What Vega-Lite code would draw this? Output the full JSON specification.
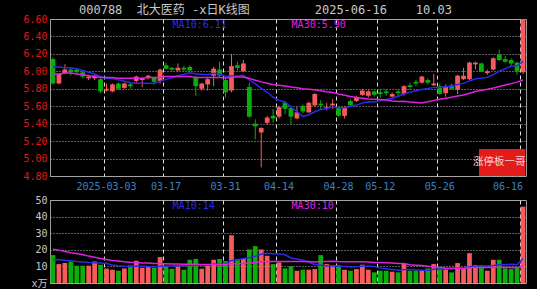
{
"$schema": "https://vega.github.io/schema/vega-lite/v6.json",
"background": "#000000",
"padding": {"left": 21, "top": 3, "right": 10, "bottom": 0},
"title": {"text": "000788\u00a0\u00a0北大医药\u00a0-x日K线图\u00a0\u00a0\u00a0\u00a0\u00a0\u00a0\u00a0\u00a0\u00a02025-06-16\u00a0\u00a0\u00a0\u00a010.03", "anchor": "start", "frame": "group", "dx": 29, "fontSize": 12, "font": "DejaVu Sans Mono, Noto Sans CJK SC", "fontWeight": "normal", "color": "#c8c8c8", "offset": -3},
"spacing": 2,
"datasets": {
"k": [
{"d":"2025-02-18","o":6.14,"h":6.16,"l":5.85,"c":5.86,"v":16.8,"m10":6.05,"m30":5.97,"vm10":14.2,"vm30":20.4},
{"d":"2025-02-19","o":5.86,"h":5.98,"l":5.85,"c":5.97,"v":11.4,"m10":6.05,"m30":5.97,"vm10":14.0,"vm30":19.8},
{"d":"2025-02-20","o":5.98,"h":6.08,"l":5.97,"c":6.02,"v":12.0,"m10":6.04,"m30":5.98,"vm10":13.7,"vm30":19.0},
{"d":"2025-02-21","o":6.02,"h":6.04,"l":5.95,"c":5.99,"v":13.0,"m10":6.04,"m30":5.98,"vm10":13.4,"vm30":18.2},
{"d":"2025-02-24","o":6.02,"h":6.03,"l":5.97,"c":5.99,"v":10.4,"m10":6.03,"m30":5.97,"vm10":13.0,"vm30":17.8},
{"d":"2025-02-25","o":5.99,"h":6.0,"l":5.92,"c":5.94,"v":10.4,"m10":6.01,"m30":5.96,"vm10":12.7,"vm30":17.0},
{"d":"2025-02-26","o":5.92,"h":5.96,"l":5.9,"c":5.94,"v":10.4,"m10":5.99,"m30":5.95,"vm10":12.4,"vm30":16.2},
{"d":"2025-02-27","o":5.92,"h":5.96,"l":5.9,"c":5.95,"v":13.0,"m10":5.97,"m30":5.94,"vm10":12.2,"vm30":15.5},
{"d":"2025-02-28","o":5.91,"h":5.92,"l":5.75,"c":5.77,"v":11.0,"m10":5.94,"m30":5.93,"vm10":12.0,"vm30":14.8},
{"d":"2025-03-03","o":5.78,"h":5.86,"l":5.77,"c":5.8,"v":8.8,"m10":5.92,"m30":5.93,"vm10":11.72,"vm30":14.2},
{"d":"2025-03-04","o":5.77,"h":5.86,"l":5.76,"c":5.85,"v":8.0,"m10":5.919,"m30":5.93,"vm10":10.84,"vm30":13.6},
{"d":"2025-03-05","o":5.86,"h":5.87,"l":5.79,"c":5.8,"v":7.4,"m10":5.902,"m30":5.92,"vm10":10.44,"vm30":13.2},
{"d":"2025-03-06","o":5.81,"h":5.87,"l":5.8,"c":5.86,"v":8.8,"m10":5.886,"m30":5.92,"vm10":10.12,"vm30":12.8},
{"d":"2025-03-07","o":5.85,"h":5.87,"l":5.8,"c":5.83,"v":10.6,"m10":5.87,"m30":5.92,"vm10":9.88,"vm30":12.5},
{"d":"2025-03-10","o":5.89,"h":5.95,"l":5.87,"c":5.94,"v":13.4,"m10":5.864,"m30":5.92,"vm10":10.18,"vm30":12.3},
{"d":"2025-03-11","o":5.9,"h":5.93,"l":5.82,"c":5.92,"v":9.2,"m10":5.862,"m30":5.92,"vm10":10.06,"vm30":12.1},
{"d":"2025-03-12","o":5.93,"h":5.96,"l":5.91,"c":5.95,"v":9.9,"m10":5.864,"m30":5.93,"vm10":10.01,"vm30":12.0},
{"d":"2025-03-13","o":5.93,"h":5.94,"l":5.85,"c":5.88,"v":9.2,"m10":5.86,"m30":5.93,"vm10":9.63,"vm30":11.8},
{"d":"2025-03-14","o":5.89,"h":6.03,"l":5.86,"c":6.02,"v":15.6,"m10":5.885,"m30":5.93,"vm10":10.09,"vm30":11.7},
{"d":"2025-03-17","o":6.07,"h":6.1,"l":6.02,"c":6.03,"v":10.0,"m10":5.908,"m30":5.94,"vm10":10.21,"vm30":11.6},
{"d":"2025-03-18","o":6.04,"h":6.05,"l":6.0,"c":6.02,"v":8.6,"m10":5.925,"m30":5.94,"vm10":10.27,"vm30":11.5},
{"d":"2025-03-19","o":6.01,"h":6.09,"l":6.0,"c":6.04,"v":10.0,"m10":5.949,"m30":5.94,"vm10":10.53,"vm30":11.4},
{"d":"2025-03-20","o":6.04,"h":6.06,"l":6.0,"c":6.02,"v":8.0,"m10":5.965,"m30":5.94,"vm10":10.45,"vm30":11.3},
{"d":"2025-03-21","o":6.05,"h":6.07,"l":6.0,"c":6.01,"v":14.0,"m10":5.983,"m30":5.94,"vm10":10.79,"vm30":11.3},
{"d":"2025-03-24","o":5.93,"h":5.95,"l":5.72,"c":5.83,"v":14.5,"m10":5.972,"m30":5.93,"vm10":10.9,"vm30":11.3},
{"d":"2025-03-25","o":5.8,"h":5.87,"l":5.78,"c":5.86,"v":8.6,"m10":5.966,"m30":5.93,"vm10":10.84,"vm30":11.2},
{"d":"2025-03-26","o":5.85,"h":5.93,"l":5.78,"c":5.91,"v":10.4,"m10":5.962,"m30":5.93,"vm10":10.89,"vm30":11.2},
{"d":"2025-03-27","o":5.95,"h":6.05,"l":5.83,"c":6.03,"v":14.0,"m10":5.977,"m30":5.93,"vm10":11.37,"vm30":11.2},
{"d":"2025-03-28","o":6.02,"h":6.11,"l":5.94,"c":5.95,"v":14.5,"m10":5.97,"m30":5.93,"vm10":11.26,"vm30":11.2},
{"d":"2025-03-31","o":5.9,"h":5.92,"l":5.7,"c":5.76,"v":13.2,"m10":5.943,"m30":5.925,"vm10":11.58,"vm30":11.17},
{"d":"2025-04-01","o":5.78,"h":6.2,"l":5.76,"c":6.06,"v":28.8,"m10":5.947,"m30":5.931,"vm10":13.6,"vm30":11.57},
{"d":"2025-04-02","o":6.07,"h":6.11,"l":6.01,"c":6.04,"v":14.4,"m10":5.947,"m30":5.934,"vm10":14.04,"vm30":11.67},
{"d":"2025-04-03","o":6.0,"h":6.13,"l":5.99,"c":6.09,"v":15.0,"m10":5.954,"m30":5.936,"vm10":14.74,"vm30":11.77},
{"d":"2025-04-07","o":5.82,"h":5.87,"l":5.47,"c":5.48,"v":20.2,"m10":5.901,"m30":5.919,"vm10":15.36,"vm30":12.01},
{"d":"2025-04-08","o":5.4,"h":5.45,"l":5.22,"c":5.37,"v":22.2,"m10":5.855,"m30":5.898,"vm10":16.13,"vm30":12.4},
{"d":"2025-04-09","o":5.3,"h":5.36,"l":4.9,"c":5.35,"v":20.2,"m10":5.804,"m30":5.879,"vm10":17.29,"vm30":12.73},
{"d":"2025-04-10","o":5.41,"h":5.49,"l":5.39,"c":5.47,"v":16.4,"m10":5.76,"m30":5.863,"vm10":17.89,"vm30":12.93},
{"d":"2025-04-11","o":5.49,"h":5.57,"l":5.41,"c":5.46,"v":11.4,"m10":5.703,"m30":5.847,"vm10":17.63,"vm30":12.88},
{"d":"2025-04-14","o":5.48,"h":5.6,"l":5.46,"c":5.59,"v":12.4,"m10":5.667,"m30":5.841,"vm10":17.42,"vm30":12.92},
{"d":"2025-04-15","o":5.64,"h":5.66,"l":5.51,"c":5.57,"v":8.8,"m10":5.648,"m30":5.833,"vm10":16.98,"vm30":12.92},
{"d":"2025-04-16","o":5.58,"h":5.61,"l":5.39,"c":5.48,"v":10.0,"m10":5.59,"m30":5.821,"vm10":15.1,"vm30":12.99},
{"d":"2025-04-17","o":5.46,"h":5.59,"l":5.45,"c":5.53,"v":7.4,"m10":5.539,"m30":5.812,"vm10":14.4,"vm30":12.99},
{"d":"2025-04-18","o":5.6,"h":5.62,"l":5.52,"c":5.54,"v":8.0,"m10":5.484,"m30":5.801,"vm10":13.7,"vm30":12.96},
{"d":"2025-04-21","o":5.53,"h":5.65,"l":5.52,"c":5.64,"v":8.0,"m10":5.5,"m30":5.795,"vm10":12.48,"vm30":12.88},
{"d":"2025-04-22","o":5.61,"h":5.75,"l":5.6,"c":5.74,"v":8.4,"m10":5.537,"m30":5.788,"vm10":11.1,"vm30":12.71},
{"d":"2025-04-23","o":5.63,"h":5.67,"l":5.57,"c":5.61,"v":16.8,"m10":5.563,"m30":5.778,"vm10":10.76,"vm30":12.96},
{"d":"2025-04-24","o":5.58,"h":5.64,"l":5.55,"c":5.59,"v":11.4,"m10":5.575,"m30":5.766,"vm10":10.26,"vm30":13.01},
{"d":"2025-04-25","o":5.61,"h":5.68,"l":5.57,"c":5.63,"v":10.8,"m10":5.592,"m30":5.757,"vm10":10.2,"vm30":13.07},
{"d":"2025-04-28","o":5.58,"h":5.6,"l":5.48,"c":5.49,"v":10.8,"m10":5.582,"m30":5.74,"vm10":10.04,"vm30":12.91},
{"d":"2025-04-29","o":5.49,"h":5.6,"l":5.46,"c":5.58,"v":8.0,"m10":5.583,"m30":5.725,"vm10":9.96,"vm30":12.84},
{"d":"2025-04-30","o":5.66,"h":5.68,"l":5.6,"c":5.61,"v":7.4,"m10":5.596,"m30":5.711,"vm10":9.7,"vm30":12.8},
{"d":"2025-05-06","o":5.66,"h":5.72,"l":5.65,"c":5.7,"v":8.4,"m10":5.613,"m30":5.7,"vm10":9.8,"vm30":12.75},
{"d":"2025-05-07","o":5.73,"h":5.8,"l":5.72,"c":5.78,"v":11.0,"m10":5.637,"m30":5.692,"vm10":10.1,"vm30":12.85},
{"d":"2025-05-08","o":5.72,"h":5.79,"l":5.7,"c":5.77,"v":8.0,"m10":5.65,"m30":5.684,"vm10":10.1,"vm30":12.65},
{"d":"2025-05-09","o":5.77,"h":5.78,"l":5.71,"c":5.73,"v":6.4,"m10":5.649,"m30":5.68,"vm10":9.9,"vm30":12.38},
{"d":"2025-05-12","o":5.76,"h":5.8,"l":5.7,"c":5.74,"v":7.4,"m10":5.662,"m30":5.676,"vm10":8.96,"vm30":12.34},
{"d":"2025-05-13","o":5.77,"h":5.8,"l":5.72,"c":5.75,"v":7.4,"m10":5.678,"m30":5.671,"vm10":8.56,"vm30":12.24},
{"d":"2025-05-14","o":5.71,"h":5.76,"l":5.7,"c":5.74,"v":6.8,"m10":5.689,"m30":5.661,"vm10":8.16,"vm30":12.0},
{"d":"2025-05-15","o":5.77,"h":5.79,"l":5.71,"c":5.75,"v":6.4,"m10":5.715,"m30":5.655,"vm10":7.72,"vm30":11.73},
{"d":"2025-05-16","o":5.74,"h":5.84,"l":5.72,"c":5.83,"v":12.0,"m10":5.74,"m30":5.657,"vm10":8.12,"vm30":11.69},
{"d":"2025-05-19","o":5.84,"h":5.87,"l":5.79,"c":5.82,"v":7.4,"m10":5.761,"m30":5.649,"vm10":8.12,"vm30":10.97},
{"d":"2025-05-20","o":5.88,"h":5.9,"l":5.83,"c":5.86,"v":7.4,"m10":5.777,"m30":5.643,"vm10":8.02,"vm30":10.74},
{"d":"2025-05-21","o":5.87,"h":5.95,"l":5.86,"c":5.94,"v":7.4,"m10":5.793,"m30":5.638,"vm10":7.66,"vm30":10.49},
{"d":"2025-05-22","o":5.9,"h":5.92,"l":5.85,"c":5.87,"v":8.8,"m10":5.803,"m30":5.651,"vm10":7.74,"vm30":10.11},
{"d":"2025-05-23","o":5.84,"h":5.97,"l":5.83,"c":5.86,"v":11.4,"m10":5.816,"m30":5.667,"vm10":8.24,"vm30":9.75},
{"d":"2025-05-26","o":5.83,"h":5.86,"l":5.73,"c":5.74,"v":8.8,"m10":5.816,"m30":5.68,"vm10":8.38,"vm30":9.37},
{"d":"2025-05-27","o":5.75,"h":5.85,"l":5.71,"c":5.83,"v":8.8,"m10":5.824,"m30":5.692,"vm10":8.52,"vm30":9.11},
{"d":"2025-05-28","o":5.84,"h":5.86,"l":5.79,"c":5.8,"v":6.4,"m10":5.83,"m30":5.704,"vm10":8.48,"vm30":8.95},
{"d":"2025-05-29","o":5.79,"h":5.96,"l":5.74,"c":5.95,"v":12.0,"m10":5.85,"m30":5.716,"vm10":9.04,"vm30":8.93},
{"d":"2025-05-30","o":5.91,"h":6.04,"l":5.9,"c":5.95,"v":8.8,"m10":5.862,"m30":5.728,"vm10":8.72,"vm30":8.93},
{"d":"2025-06-03","o":5.91,"h":6.11,"l":5.9,"c":6.1,"v":18.0,"m10":5.89,"m30":5.749,"vm10":9.78,"vm30":9.2},
{"d":"2025-06-04","o":6.08,"h":6.11,"l":6.02,"c":6.1,"v":10.8,"m10":5.914,"m30":5.768,"vm10":10.12,"vm30":9.31},
{"d":"2025-06-05","o":6.09,"h":6.1,"l":5.99,"c":6.0,"v":10.4,"m10":5.92,"m30":5.783,"vm10":10.42,"vm30":9.39},
{"d":"2025-06-06","o":5.98,"h":6.02,"l":5.96,"c":6.0,"v":7.4,"m10":5.933,"m30":5.795,"vm10":10.28,"vm30":9.37},
{"d":"2025-06-09","o":6.02,"h":6.16,"l":6.01,"c":6.15,"v":14.0,"m10":5.962,"m30":5.809,"vm10":10.54,"vm30":9.56},
{"d":"2025-06-10","o":6.19,"h":6.25,"l":6.12,"c":6.13,"v":14.0,"m10":6.001,"m30":5.826,"vm10":11.06,"vm30":9.47},
{"d":"2025-06-11","o":6.14,"h":6.18,"l":6.1,"c":6.11,"v":8.8,"m10":6.029,"m30":5.844,"vm10":11.06,"vm30":9.38},
{"d":"2025-06-12","o":6.13,"h":6.15,"l":6.05,"c":6.09,"v":8.4,"m10":6.058,"m30":5.859,"vm10":11.26,"vm30":9.3},
{"d":"2025-06-13","o":6.1,"h":6.11,"l":5.96,"c":6.0,"v":9.4,"m10":6.063,"m30":5.876,"vm10":11.0,"vm30":9.25},
{"d":"2025-06-16","o":5.99,"h":6.6,"l":5.97,"c":6.6,"v":46.0,"m10":6.11,"m30":5.9,"vm10":14.7,"vm30":10.5}
],
"annP": [
{"d":"2025-03-18","y":6.6,"t":"MA10:6.11","s":"MA10"},
{"d":"2025-04-16","y":6.6,"t":"MA30:5.90","s":"MA30"}
],
"annV": [
{"d":"2025-03-18","y":50,"t":"MA10:14","s":"MA10"},
{"d":"2025-04-16","y":50,"t":"MA30:10","s":"MA30"}
],
"wm": [
{"a":"2025-06-05","b":"2025-06-16","m":"2025-06-10","y1":4.8,"y2":5.11,"ym":4.955,"t":"涨停板一哥"}
]
},
"vconcat": [
{
"width": 476, "height": 157,
"layer": [
{"data": {"name": "k"}, "mark": {"type": "rule", "strokeWidth": 1},
 "encoding": {
  "x": {"field": "d", "type": "ordinal", "scale": {"paddingInner": 0.2, "paddingOuter": 0.1},
   "axis": {"values": ["2025-03-03","2025-03-17","2025-03-31","2025-04-14","2025-04-28","2025-05-12","2025-05-26","2025-06-16"],
    "labelExpr": "datum.value == '2025-03-03' ? datum.value : slice(datum.value, 5)",
    "labelAlign": {"condition": {"test": "datum.value == '2025-06-16'", "value": "right"}, "value": "center"},
    "bandPosition": 0, "labelAngle": 0, "labelColor": "#3a82c8", "labelPadding": 5, "grid": true, "gridColor": "#dddddd", "gridDash": [4, 3], "title": null}},
  "y": {"field": "l", "type": "quantitative", "scale": {"domain": [4.8, 6.6], "nice": false, "zero": false},
   "axis": {"values": [4.8, 5.0, 5.2, 5.4, 5.6, 5.8, 6.0, 6.2, 6.4, 6.6], "tickCount": 40, "format": ".2f", "labelFont": "DejaVu Sans Mono", "labelColor": "#e01818", "grid": true, "gridColor": "#b4b4b4", "gridDash": [1, 2], "title": null, "minExtent": 28, "maxExtent": 28}},
  "y2": {"field": "h"},
  "color": {"condition": {"test": "datum.c >= datum.o", "value": "#f65a5a"}, "value": "#0aad0a"}
 }},
{"data": {"name": "k"}, "mark": {"type": "bar"},
 "encoding": {
  "x": {"field": "d", "type": "ordinal"},
  "y": {"field": "o", "type": "quantitative"},
  "y2": {"field": "c"},
  "color": {"condition": {"test": "datum.c >= datum.o", "value": "#f65a5a"}, "value": "#0aad0a"}
 }},
{"data": {"name": "k"}, "mark": {"type": "line", "color": "#2a2ae8", "strokeWidth": 1.5},
 "encoding": {"x": {"field": "d", "type": "ordinal"}, "y": {"field": "m10", "type": "quantitative"}}},
{"data": {"name": "k"}, "mark": {"type": "line", "color": "#e020e0", "strokeWidth": 1.5},
 "encoding": {"x": {"field": "d", "type": "ordinal"}, "y": {"field": "m30", "type": "quantitative"}}},
{"data": {"name": "annP"}, "mark": {"type": "text", "align": "left", "baseline": "top", "dx": 3, "dy": 1, "font": "DejaVu Sans Mono", "fontSize": 10},
 "encoding": {"x": {"field": "d", "type": "ordinal", "bandPosition": 0}, "y": {"field": "y", "type": "quantitative"}, "text": {"field": "t"},
  "color": {"field": "s", "type": "nominal", "scale": {"domain": ["MA10", "MA30"], "range": ["#2a2ae8", "#e020e0"]}, "legend": null}}},
{"data": {"name": "wm"}, "mark": {"type": "rect", "color": "#e21b1b"},
 "encoding": {"x": {"field": "a", "type": "ordinal", "bandPosition": 0}, "x2": {"field": "b", "bandPosition": 1}, "y": {"field": "y1", "type": "quantitative"}, "y2": {"field": "y2"}}},
{"data": {"name": "wm"}, "mark": {"type": "text", "color": "#ffd6d6", "font": "Noto Sans CJK SC", "fontSize": 10.5, "align": "center", "baseline": "middle"},
 "encoding": {"x": {"field": "m", "type": "ordinal"}, "y": {"field": "ym", "type": "quantitative"}, "text": {"field": "t"}}}
]
},
{
"width": 476, "height": 83,
"data": {"name": "k"},
"layer": [
{"mark": {"type": "bar"},
 "encoding": {
  "x": {"field": "d", "type": "ordinal", "scale": {"paddingInner": 0.2, "paddingOuter": 0.1},
   "axis": {"values": ["2025-03-03","2025-03-17","2025-03-31","2025-04-14","2025-04-28","2025-05-12","2025-05-26","2025-06-16"],
    "bandPosition": 0, "labels": false, "grid": true, "gridColor": "#dddddd", "gridDash": [4, 3], "title": null}},
  "y": {"field": "v", "type": "quantitative", "scale": {"domain": [0, 50], "nice": false},
   "axis": {"values": [0, 10, 20, 30, 40, 50], "tickCount": 40, "labelExpr": "datum.value == 0 ? 'x万' : datum.label", "labelColor": "#c8c8c8", "grid": true, "gridColor": "#b4b4b4", "gridDash": [1, 2], "title": null, "minExtent": 28, "maxExtent": 28}},
  "color": {"condition": {"test": "datum.c >= datum.o", "value": "#f65a5a"}, "value": "#0aad0a"}
 }},
{"mark": {"type": "line", "color": "#2a2ae8", "strokeWidth": 1.5},
 "encoding": {"x": {"field": "d", "type": "ordinal"}, "y": {"field": "vm10", "type": "quantitative"}}},
{"mark": {"type": "line", "color": "#e020e0", "strokeWidth": 1.5},
 "encoding": {"x": {"field": "d", "type": "ordinal"}, "y": {"field": "vm30", "type": "quantitative"}}},
{"data": {"name": "annV"}, "mark": {"type": "text", "align": "left", "baseline": "top", "dx": 3, "dy": 1, "font": "DejaVu Sans Mono", "fontSize": 10},
 "encoding": {"x": {"field": "d", "type": "ordinal", "bandPosition": 0}, "y": {"field": "y", "type": "quantitative"}, "text": {"field": "t"},
  "color": {"field": "s", "type": "nominal", "scale": {"domain": ["MA10", "MA30"], "range": ["#2a2ae8", "#e020e0"]}, "legend": null}}}
]
}
],
"config": {
 "view": {"stroke": "#9a9a9a", "strokeWidth": 1},
 "axis": {"labelFont": "DejaVu Sans Mono, Noto Sans CJK SC", "labelFontSize": 10, "ticks": false, "domain": false, "labelPadding": 3, "gridOpacity": 1, "labelOverlap": false}
}
}
